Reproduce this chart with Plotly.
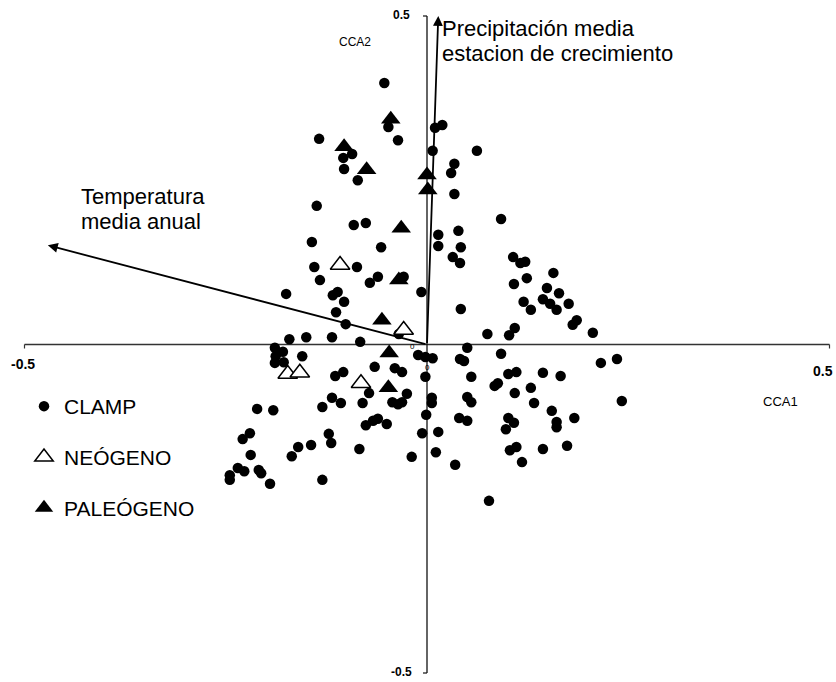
import plotly.graph_objects as go

# ---------------- data (CCA scores) ----------------
clamp_x = [-0.053, -0.048, -0.036, -0.134, -0.093, -0.104, -0.103, -0.086, 0.010, 0.019,
           0.007, 0.062, 0.034, 0.030, 0.034, -0.137, -0.091, -0.076, -0.143, -0.057,
           0.014, 0.014, 0.039, 0.042, 0.032, 0.041, 0.092, 0.107, 0.116, 0.122,
           0.157, 0.108, 0.124, 0.149, 0.164, 0.144, 0.153, 0.161, 0.176, 0.120,
           0.129, 0.042, 0.186, 0.181, 0.206, 0.109, 0.102, 0.075, -0.007, -0.029,
           0.050, 0.092, 0.041, 0.046, 0.007, -0.011, -0.002, 0.236, 0.216, -0.002,
           0.055, 0.101, 0.111, 0.144, 0.166, 0.084, 0.088, 0.129, 0.109, 0.050,
           0.055, 0.006, 0.006, 0.242, 0.133, 0.155, -0.001, 0.040, 0.050, 0.101,
           0.108, 0.098, 0.161, 0.161, 0.183, 0.014, -0.006, 0.011, 0.103, 0.111,
           0.144, 0.174, 0.118, 0.035, 0.077, -0.140, -0.087, -0.133, -0.071, -0.061,
           -0.175, -0.117, -0.111, -0.103, -0.113, -0.101, -0.035, -0.171, -0.150, -0.118,
           -0.083, -0.189, -0.179, -0.188, -0.189, -0.178, -0.155, -0.065, -0.040, -0.031,
           -0.104, -0.114, -0.072, -0.025, -0.043, -0.036, -0.031, -0.118, -0.107, -0.080,
           -0.130, -0.211, -0.191, -0.076, -0.067, -0.061, -0.050, -0.220, -0.229, -0.122,
           -0.119, -0.160, -0.144, -0.168, -0.219, -0.084, -0.019, -0.245, -0.235, -0.227,
           -0.245, -0.209, -0.206, -0.195, -0.130]
clamp_y = [0.398, 0.331, 0.311, 0.313, 0.290, 0.284, 0.267, 0.250, 0.330, 0.334,
           0.295, 0.295, 0.275, 0.261, 0.229, 0.211, 0.182, 0.185, 0.156, 0.148,
           0.167, 0.150, 0.173, 0.148, 0.133, 0.124, 0.191, 0.133, 0.124, 0.126,
           0.109, 0.092, 0.101, 0.086, 0.078, 0.069, 0.062, 0.053, 0.062, 0.065,
           0.053, 0.054, 0.037, 0.030, 0.018, 0.025, 0.014, 0.016, 0.080, 0.103,
           -0.005, -0.014, -0.022, -0.025, -0.021, -0.016, -0.019, -0.022, -0.028, -0.049,
           -0.049, -0.045, -0.042, -0.043, -0.048, -0.063, -0.059, -0.066, -0.074, -0.080,
           -0.088, -0.081, -0.089, -0.086, -0.089, -0.101, -0.107, -0.112, -0.116, -0.112,
           -0.119, -0.129, -0.118, -0.126, -0.112, -0.133, -0.135, -0.164, -0.161, -0.156,
           -0.159, -0.154, -0.179, -0.183, -0.238, 0.118, 0.118, 0.098, 0.094, 0.103,
           0.077, 0.075, 0.080, 0.065, 0.049, 0.031, 0.016, 0.008, 0.011, 0.011,
           0.004, -0.005, -0.011, -0.018, -0.028, -0.027, -0.018, -0.034, -0.036, -0.042,
           -0.042, -0.048, -0.074, -0.075, -0.088, -0.091, -0.088, -0.081, -0.089, -0.089,
           -0.095, -0.098, -0.100, -0.123, -0.116, -0.113, -0.121, -0.135, -0.144, -0.136,
           -0.150, -0.156, -0.153, -0.170, -0.168, -0.159, -0.171, -0.199, -0.188, -0.193,
           -0.206, -0.191, -0.196, -0.212, -0.206]

neogeno_x = [-0.108, -0.029, -0.173, -0.158, -0.082]
neogeno_y = [0.121, 0.022, -0.045, -0.043, -0.059]

paleogeno_x = [-0.045, -0.103, -0.075, 0.000, 0.001, -0.032, -0.035, -0.056, -0.047, -0.048]
paleogeno_y = [0.343, 0.301, 0.266, 0.258, 0.235, 0.177, 0.098, 0.037, -0.013, -0.066]

vector_names = ["Temperatura media anual", "Precipitación media estacion de crecimiento"]
vector_x = [-0.471, 0.014]
vector_y = [0.151, 0.500]

axis_min, axis_max = -0.5, 0.5
tick_labels = ["-0.5", "0.5"]

# ---------------- layout helpers ----------------
W, H = 836, 682
X0_PX, XSCALE = 427.0, 805.0      # pixel of x=0, pixels per unit
Y0_PX, YSCALE = 344.5, 657.0
x_range = [(0 - X0_PX) / XSCALE, (W - X0_PX) / XSCALE]
y_range = [(Y0_PX - H) / YSCALE, Y0_PX / YSCALE]


def px(x):
    return x / W


def py(y):
    return 1 - y / H


FONT = "Liberation Sans, Arial, sans-serif"

fig = go.Figure()

fig.add_trace(go.Scatter(
    x=clamp_x, y=clamp_y, mode="markers", name="CLAMP", legendgroup="a",
    marker=dict(symbol="circle", size=10.5, color="black", line=dict(width=0))))
fig.add_trace(go.Scatter(
    x=neogeno_x, y=neogeno_y, mode="markers", name="NEÓGENO", legendgroup="b",
    marker=dict(symbol="triangle-up", size=17, color="white",
                line=dict(width=1.5, color="black"))))
fig.add_trace(go.Scatter(
    x=paleogeno_x, y=paleogeno_y, mode="markers", name="PALEÓGENO", legendgroup="c",
    marker=dict(symbol="triangle-up", size=17, color="black",
                line=dict(width=0))))

# axes drawn through the origin
tx = 4 / XSCALE
ty = 4 / YSCALE
shapes = [
    dict(type="line", x0=axis_min, y0=0, x1=axis_max, y1=0, line=dict(color="#333", width=1.3)),
    dict(type="line", x0=axis_min, y0=0, x1=axis_min, y1=-ty, line=dict(color="#333", width=1.2)),
    dict(type="line", x0=axis_max, y0=0, x1=axis_max, y1=-ty, line=dict(color="#333", width=1.2)),
    dict(type="line", x0=0, y0=axis_min, x1=0, y1=axis_max, line=dict(color="#111", width=1.3)),
    dict(type="line", x0=0, y0=axis_max, x1=-tx, y1=axis_max, line=dict(color="#111", width=1.2)),
    dict(type="line", x0=0, y0=axis_min, x1=-tx, y1=axis_min, line=dict(color="#111", width=1.2)),
]
for s in shapes:
    s.update(xref="x", yref="y", layer="below")

annotations = []
# biplot vectors
for vx, vy in zip(vector_x, vector_y):
    annotations.append(dict(x=vx, y=vy, ax=0, ay=0, xref="x", yref="y",
                            axref="x", ayref="y", text="", showarrow=True,
                            arrowhead=2, arrowsize=1.1, arrowwidth=1.8,
                            arrowcolor="black"))


def label(text, x, y, size, xanchor="center", bold=False):
    t = f"<b>{text}</b>" if bold else text
    annotations.append(dict(x=px(x), y=py(y), xref="paper", yref="paper",
                            text=t, showarrow=False, xanchor=xanchor,
                            yanchor="middle",
                            font=dict(family=FONT, size=size, color="black")))


label(tick_labels[0], 23, 364, 14, bold=True)
label(tick_labels[1], 835, 371, 14, xanchor="right", bold=True)
label(tick_labels[1], 401, 15, 12, bold=True)
label(tick_labels[0], 401, 672, 12, bold=True)
label("CCA1", 780, 401, 13)
label("CCA2", 355, 42, 12)
label("0", 412, 346, 8)
label("0", 427, 367, 8)

label("Precipitación media", 440, 29, 22, xanchor="left")
label("estacion de crecimiento", 440, 53, 22, xanchor="left")
label("Temperatura", 79, 197, 22, xanchor="left")
label("media anual", 79, 222, 22, xanchor="left")

fig.update_layout(
    width=W, height=H,
    margin=dict(l=0, r=0, t=0, b=0),
    paper_bgcolor="white", plot_bgcolor="white",
    xaxis=dict(range=x_range, visible=False, showgrid=False, zeroline=False),
    yaxis=dict(range=y_range, visible=False, showgrid=False, zeroline=False),
    shapes=shapes,
    annotations=annotations,
    showlegend=True,
    legend=dict(x=px(24), y=py(386), xanchor="left", yanchor="top",
                bgcolor="rgba(0,0,0,0)", borderwidth=0,
                tracegroupgap=20.5, itemsizing="trace",
                font=dict(family=FONT, size=21, color="black")),
)

fig.write_html("out.html",
               config={"displayModeBar": False},
               post_script="document.body.style.margin='0';document.body.style.overflow='hidden';")
